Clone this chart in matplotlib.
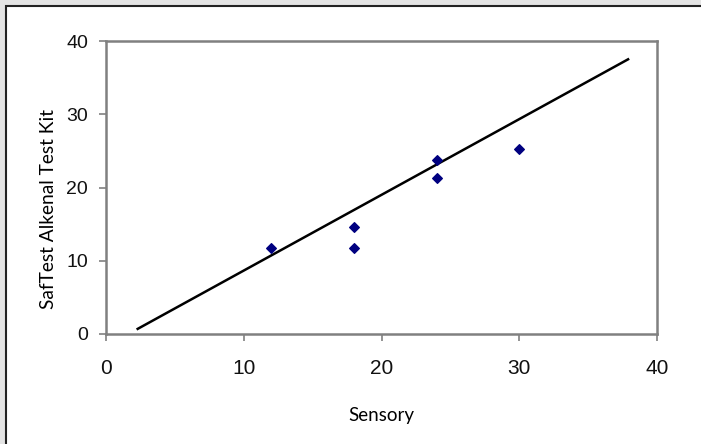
import matplotlib.pyplot as plt
from matplotlib.patches import Rectangle

# values
sensory = [12, 18, 18, 24, 24, 30]
saftest = [11.8, 14.6, 11.7, 23.8, 21.3, 25.3]
line_x = [2.3, 37.9]
line_y = [0.7, 37.5]
ticks = [0, 10, 20, 30, 40]

W, H = 701, 444
fig = plt.figure(figsize=(W / 100, H / 100), dpi=100, facecolor='#e4e4e4')

# white panel with dark border, slightly inset on top/left
fig.patches.append(Rectangle((5.5, -10), W + 20, H - 5.5 + 10, transform=None,
                             facecolor='white', edgecolor='#222222', lw=1.5,
                             zorder=-1))

ax = fig.add_axes([106 / W, 1 - 334 / H, (657 - 106) / W, (334 - 41) / H])
ax.patch.set_alpha(0)
ax.plot(line_x, line_y, color='black', lw=1.8)
ax.scatter(sensory, saftest, marker='D', s=24, color='#000080', zorder=3)

ax.set_xlim(0, 40)
ax.set_ylim(0, 40)
ax.set_xticks(ticks)
ax.set_yticks(ticks)
for s in ax.spines.values():
    s.set_color('#808080')
    s.set_linewidth(1.8)
ax.tick_params(axis='both', color='#808080', length=5, width=1.2,
               labelfontfamily='Liberation Sans', labelcolor='#111111')
ax.tick_params(axis='x', pad=13, labelsize=15)
ax.tick_params(axis='y', pad=8, labelsize=14)

fig.text(381.5 / W, 1 - 415 / H, 'Sensory', ha='center', va='center',
         fontfamily='Lato', fontsize=13.5)
fig.text(49 / W, 1 - 209 / H, 'SafTest Alkenal Test Kit', ha='center', va='center',
         rotation=90, fontfamily='Lato', fontsize=13.8)

fig.savefig('out.png', dpi=100, facecolor=fig.get_facecolor())
